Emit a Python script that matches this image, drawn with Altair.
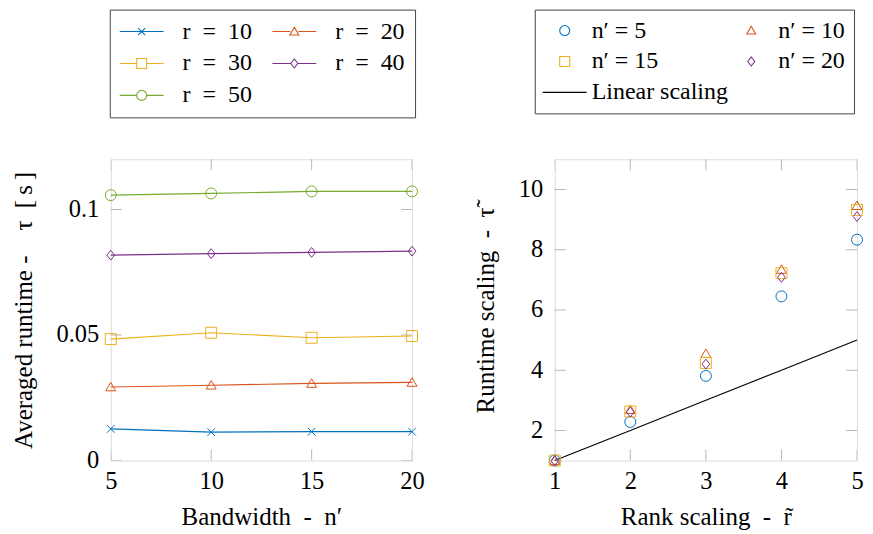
import altair as alt
import pandas as pd

# ---------------- data: left panel ----------------
bandwidth = [5, 10, 15, 20]
rank_series = ["r\u2002=\u200210", "r\u2002=\u200220", "r\u2002=\u200230", "r\u2002=\u200240", "r\u2002=\u200250"]
runtime_r10 = [0.0126, 0.0113, 0.0115, 0.0115]
runtime_r20 = [0.0293, 0.0300, 0.0307, 0.0311]
runtime_r30 = [0.0484, 0.0509, 0.0489, 0.0496]
runtime_r40 = [0.0818, 0.0824, 0.0829, 0.0834]
runtime_r50 = [0.1057, 0.1064, 0.1072, 0.1072]
left_x_domain = [5, 20]
left_y_domain = [0, 0.12]
left_x_ticks = [5, 10, 15, 20]
left_y_ticks = [0, 0.05, 0.1]

# ---------------- data: right panel ----------------
rank_scaling = [1, 2, 3, 4, 5]
band_series = ["n\u2032 = 5", "n\u2032 = 10", "n\u2032 = 15", "n\u2032 = 20"]
linear_label = "Linear scaling"
scaling_n5 = [1.0, 2.28, 3.81, 6.45, 8.33]
scaling_n10 = [1.0, 2.69, 4.55, 7.34, 9.46]
scaling_n15 = [1.0, 2.63, 4.24, 7.22, 9.32]
scaling_n20 = [1.0, 2.61, 4.20, 7.08, 9.10]
linear_scaling = [1, 2, 3, 4, 5]
right_x_domain = [1, 5]
right_y_domain = [1, 11]
right_x_ticks = [1, 2, 3, 4, 5]
right_y_ticks = [2, 4, 6, 8, 10]

# ---------------- styles ----------------
colors5 = ["#0072BD", "#D95319", "#EDB120", "#7E2F8E", "#77AC30"]
right_colors = ["#0072BD", "#D95319", "#EDB120", "#7E2F8E", "#000000"]
FONT = "Liberation Serif"
FS_LAB = 24.5
FS_TITLE = 25
FS_LEG = 24

CROSS = "M-0.7,-0.7L0.7,0.7M-0.7,0.7L0.7,-0.7"
TRI = "M0,-0.85L0.9,0.7L-0.9,0.7Z"
SQ = "M-1,-1L1,-1L1,1L-1,1Z"
DIA = "M0,-0.9L0.7,0L0,0.9L-0.7,0Z"
CIRC = "M1,0A1,1,0,1,1,-1,0A1,1,0,1,1,1,0Z"
LINE = "M-4.4,0L4.4,0"
left_shapes = [CROSS, TRI, SQ, DIA, CIRC]
left_legend_shapes = [
    LINE + CROSS,
    "M-4.4,0L-0.8,0M0.8,0L4.4,0" + TRI,
    "M-4.4,0L-1,0M1,0L4.4,0" + SQ,
    "M-4.4,0L-0.7,0M0.7,0L4.4,0" + DIA,
    "M-4.4,0L-1,0M1,0L4.4,0" + CIRC,
]
right_shapes = [CIRC, TRI, SQ, DIA, LINE]

# legend entries are filled column by column: reorder so that rows read left to right
left_leg_order = [0, 2, 4, 1, 3]
right_leg_order = [0, 2, 4, 1, 3]

# ---------------- tables ----------------
left_vals = [runtime_r10, runtime_r20, runtime_r30, runtime_r40, runtime_r50]
left_df = pd.DataFrame(
    [{"n": b, "tau": v, "series": s} for s, vals in zip(rank_series, left_vals) for b, v in zip(bandwidth, vals)]
)
left_leg_domain = [rank_series[i] for i in left_leg_order]
left_legend_df = pd.DataFrame({"series": left_leg_domain, "n": [-100] * 5, "tau": [-1] * 5})
left_ytick_df = pd.DataFrame([{"n": side, "tau": v} for v in left_y_ticks for side in left_x_domain])
left_xtick_df = pd.DataFrame([{"n": v, "tau": side} for v in left_x_ticks for side in left_y_domain])

right_vals = [scaling_n5, scaling_n10, scaling_n15, scaling_n20]
right_df = pd.DataFrame(
    [{"r": r, "t": v, "series": s} for s, vals in zip(band_series, right_vals) for r, v in zip(rank_scaling, vals)]
)
right_line_df = pd.DataFrame({"r": rank_scaling, "t": linear_scaling, "series": [linear_label] * len(rank_scaling)})
right_all = band_series + [linear_label]
right_leg_domain = [right_all[i] for i in right_leg_order]
right_legend_df = pd.DataFrame({"series": right_leg_domain, "r": [-100] * 5, "t": [-100] * 5})
right_ytick_df = pd.DataFrame([{"r": side, "t": v} for v in right_y_ticks for side in right_x_domain])
right_xtick_df = pd.DataFrame([{"r": v, "t": side} for v in right_x_ticks for side in right_y_domain])

W, H = 302, 302
TICK_COLOR = "#9a9a9a"


def axis_x(title, values, fmt=None):
    kw = dict(title=title, values=values, domain=False, ticks=False, grid=False,
              labelPadding=9, titlePadding=12, labelFont=FONT, labelFontSize=FS_LAB,
              titleFont=FONT, titleFontSize=FS_TITLE, titleFontWeight="normal",
              labelColor="black", titleColor="black", labelFlush=False)
    if fmt:
        kw["format"] = fmt
    return alt.Axis(**kw)


def axis_y(title, values, fmt=None):
    kw = dict(title=title, values=values, domain=False, ticks=False, grid=False,
              labelPadding=12, titlePadding=20, labelFont=FONT, labelFontSize=FS_LAB,
              titleFont=FONT, titleFontSize=FS_TITLE, titleFontWeight="normal",
              labelColor="black", titleColor="black", labelFlush=False)
    if fmt:
        kw["format"] = fmt
    return alt.Axis(**kw)


def legend(x, y, pad, sym_offset, lab_offset, col_pad, row_pad):
    return alt.Legend(orient="none", legendX=x, legendY=y, columns=2, title=None,
                      strokeColor="#444", fillColor="white", padding=pad,
                      symbolSize=100, symbolStrokeWidth=1.1,
                      labelFont=FONT, labelFontSize=FS_LEG, labelColor="black",
                      symbolOffset=sym_offset, labelOffset=lab_offset,
                      columnPadding=col_pad, rowPadding=row_pad, cornerRadius=0)


def ticks(df, x, y, orient):
    return alt.Chart(df).mark_tick(orient=orient, size=22, thickness=1,
                                   color=TICK_COLOR, clip=True).encode(x=x, y=y)


# ---------------- left panel ----------------
lx = alt.X("n:Q", scale=alt.Scale(domain=left_x_domain, nice=False, zero=False),
           axis=axis_x("Bandwidth\u2002-\u2002n\u2032", left_x_ticks))
ly = alt.Y("tau:Q", scale=alt.Scale(domain=left_y_domain, nice=False),
           axis=axis_y("Averaged runtime -\u2003\u03c4\u2002[\u2009s\u2009]", left_y_ticks, "~g"))

l_lines = alt.Chart(left_df).mark_line(strokeWidth=1.2).encode(
    x=lx, y=ly,
    color=alt.Color("series:N", scale=alt.Scale(domain=rank_series, range=colors5), legend=None),
)
l_pts = alt.Chart(left_df).mark_point(filled=False, size=121, strokeWidth=1, opacity=1).encode(
    x=lx, y=ly,
    color=alt.Color("series:N", scale=alt.Scale(domain=rank_series, range=colors5), legend=None),
    shape=alt.Shape("series:N", scale=alt.Scale(domain=rank_series, range=left_shapes), legend=None),
)
l_leg_legend = legend(-1, -150, 10, 10, 29, 17, 8)
l_leg = alt.Chart(left_legend_df).mark_point(filled=False, strokeWidth=1, opacity=1, clip=True).encode(
    x=lx, y=ly,
    color=alt.Color("series:N", sort=None,
                    scale=alt.Scale(domain=left_leg_domain, range=[colors5[i] for i in left_leg_order]),
                    legend=l_leg_legend),
    shape=alt.Shape("series:N", sort=None,
                    scale=alt.Scale(domain=left_leg_domain, range=[left_legend_shapes[i] for i in left_leg_order]),
                    legend=l_leg_legend),
)
left = alt.layer(
    ticks(left_ytick_df, lx, ly, "horizontal"), ticks(left_xtick_df, lx, ly, "vertical"),
    l_lines, l_pts, l_leg,
).resolve_scale(color="independent", shape="independent").properties(width=W, height=H)

# ---------------- right panel ----------------
rx = alt.X("r:Q", scale=alt.Scale(domain=right_x_domain, nice=False, zero=False),
           axis=axis_x("Rank scaling\u2002-\u2002r\u0303", right_x_ticks))
ry = alt.Y("t:Q", scale=alt.Scale(domain=right_y_domain, nice=False, zero=False),
           axis=axis_y("Runtime scaling\u2002-\u2002\u03c4\u0303", right_y_ticks))

r_line = alt.Chart(right_line_df).mark_line(strokeWidth=1.1, color="black").encode(x=rx, y=ry)
r_pts = alt.Chart(right_df).mark_point(filled=False, size=121, strokeWidth=1, opacity=1).encode(
    x=rx, y=ry,
    color=alt.Color("series:N", scale=alt.Scale(domain=band_series, range=right_colors[:4]), legend=None),
    shape=alt.Shape("series:N", scale=alt.Scale(domain=band_series, range=right_shapes[:4]), legend=None),
)
r_leg_legend = legend(-20, -150, 9, 9, 15, 2, 7)
r_leg = alt.Chart(right_legend_df).mark_point(filled=False, strokeWidth=1, opacity=1, clip=True).encode(
    x=rx, y=ry,
    color=alt.Color("series:N", sort=None,
                    scale=alt.Scale(domain=right_leg_domain, range=[right_colors[i] for i in right_leg_order]),
                    legend=r_leg_legend),
    shape=alt.Shape("series:N", sort=None,
                    scale=alt.Scale(domain=right_leg_domain, range=[right_shapes[i] for i in right_leg_order]),
                    legend=r_leg_legend),
)
right = alt.layer(
    ticks(right_ytick_df, rx, ry, "horizontal"), ticks(right_xtick_df, rx, ry, "vertical"),
    r_line, r_pts, r_leg,
).resolve_scale(color="independent", shape="independent").properties(width=303, height=H)

chart = alt.hconcat(left, right, spacing=48).properties(
    padding={"left": 2, "top": 0, "right": 0, "bottom": 0}
).configure_view(stroke="#111", strokeWidth=1).configure(background="white")

chart.save("out.html", embed_options={"renderer": "svg", "actions": False})
